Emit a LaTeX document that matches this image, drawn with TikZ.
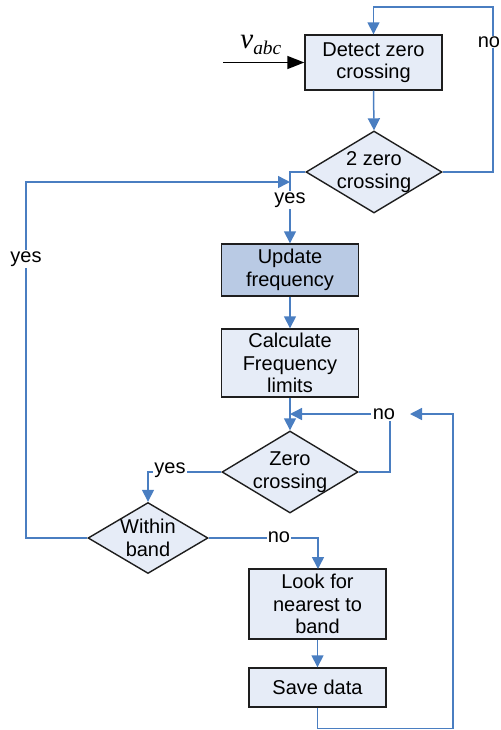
\documentclass[tikz,border=0pt]{standalone}
\usepackage{fontspec}
\setmainfont{Liberation Sans}
\newfontfamily\tnr{Liberation Serif}
\usetikzlibrary{shapes.geometric,arrows.meta}

\definecolor{flowblue}{RGB}{74,126,193}
\definecolor{boxfill}{RGB}{230,236,247}
\definecolor{boxdark}{RGB}{185,202,228}
\definecolor{edge}{RGB}{30,30,30}

\tikzset{
  procbox/.style={draw=edge, line width=0.7pt, fill=boxfill, rectangle, inner sep=0pt,
    align=center, font=\fontsize{10}{11.3}\selectfont, minimum width=68.5pt},
  decision/.style={draw=edge, line width=0.7pt, fill=boxfill, diamond, inner sep=0pt},
  dtext/.style={align=center, font=\fontsize{10}{11.3}\selectfont, inner sep=0pt},
  flow/.style={draw=flowblue, line width=0.75pt, -{Triangle[length=6pt,width=6pt]}},
  lbl/.style={fill=white, inner sep=1pt, font=\fontsize{10}{11}\selectfont},
}

\begin{document}
\begin{tikzpicture}[x=0.5pt, y=-0.5pt]
  \clip (0,0) rectangle (500,730);

  % process boxes
  \node[procbox, minimum height=27.5pt] (detect) at (373.5,62.5) {Detect zero\\crossing};
  \node[procbox, fill=boxdark, minimum height=26pt] (update) at (290,270) {Update\\frequency};
  \node[procbox, minimum height=34pt] (calc) at (290,363) {Calculate\\Frequency\\limits};
  \node[procbox, minimum height=35pt] (look) at (317.5,604) {Look for\\nearest to\\band};
  \node[procbox, minimum height=19.5pt] (save) at (317.5,687.5) {Save data};

  % decisions
  \node[decision, minimum width=68pt, minimum height=41pt] (twozero) at (374,172) {};
  \node[dtext] at (twozero.center) {2 zero\\crossing};
  \node[decision, minimum width=68pt, minimum height=41pt] (zero) at (290,472) {};
  \node[dtext] at (zero.center) {Zero\\crossing};
  \node[decision, minimum width=60pt, minimum height=35.5pt] (within) at (148,538) {};
  \node[dtext] at (within.center) {Within\\band};

  % input signal
  \coordinate (vin) at (223,62.5);
  \node[anchor=base west, inner sep=0pt] (vlabel) at (240,48.3)
    {\tnr\itshape\fontsize{14.5}{14.5}\selectfont v\raisebox{-3pt}{\fontsize{9.7}{9.7}\selectfont abc}};
  \draw[line width=0.75pt, -{Triangle[length=8.5pt,width=6.5pt]}] (vin) -- (detect.west);

  % main path
  \draw[flow] (detect.south) -- (twozero.north);
  \draw[flow] (twozero.west) -- (290,172) -- (update.north);
  \node[lbl] (yesA) at (290,200) {yes};
  \draw[flow] (update.south) -- (calc.north);
  \draw[flow] (calc.south) -- (zero.north);

  % no: back to detection
  \draw[flow] (twozero.east) -- (493,172) -- (493,7) -- (373.5,7) -- (detect.north);
  \node[lbl, inner sep=0.5pt] (noA) at (489,42) {no};

  % no: wait for next zero crossing
  \coordinate (zloop) at (290,414);
  \draw[flow] (zero.east) -- (390,472) -- (390,414) -- (zloop);
  \node[lbl] (noB) at (384,414) {no};

  % yes: check band
  \draw[flow] (zero.west) -- (148,472) -- (within.north);
  \node[lbl, inner sep=0.5pt] (yesB) at (170,470) {yes};

  % yes: within band, update frequency
  \coordinate (yloop) at (290,182);
  \draw[flow] (within.west) -- (26,538) -- (26,182) -- (yloop);
  \node[lbl] (yesC) at (26,259) {yes};

  % no: out of band
  \draw[flow] (within.east) -- (318,538) -- (318,569);
  \node[lbl, inner sep=0.5pt] (noC) at (279,537) {no};
  \draw[flow] (look.south) -- (save.north);

  % return from save
  \coordinate (ret) at (410,414);
  \draw[flow] (save.south) -- (317.5,728.5) -- (453,728.5) -- (453,414) -- (ret);
\end{tikzpicture}
\end{document}
